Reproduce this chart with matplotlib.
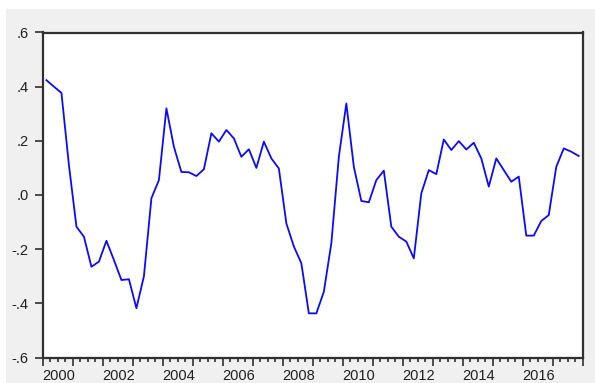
import numpy as np
import matplotlib.pyplot as plt
import matplotlib.transforms as mtransforms
from matplotlib.patches import Rectangle
from matplotlib.ticker import FixedLocator, FuncFormatter

plt.rcParams['font.family'] = ['Liberation Sans', 'DejaVu Sans']

# quarterly series, 2000Q1 - 2017Q4
quarters = [f'{y}Q{q}' for y in range(2000, 2018) for q in range(1, 5)]
values = [
    0.424, 0.400, 0.377, 0.110, -0.117, -0.154, -0.265, -0.246,
    -0.169, -0.240, -0.314, -0.311, -0.418, -0.300, -0.012, 0.055,
    0.320, 0.178, 0.085, 0.084, 0.070, 0.095, 0.228, 0.197,
    0.240, 0.209, 0.141, 0.169, 0.100, 0.197, 0.135, 0.098,
    -0.105, -0.190, -0.252, -0.437, -0.437, -0.357, -0.178, 0.141,
    0.338, 0.104, -0.022, -0.027, 0.055, 0.090, -0.117, -0.154,
    -0.172, -0.234, 0.006, 0.092, 0.077, 0.205, 0.166, 0.199,
    0.168, 0.193, 0.135, 0.031, 0.135, 0.092, 0.049, 0.068,
    -0.150, -0.150, -0.096, -0.074, 0.104, 0.172, 0.160, 0.144,
]
y_ticks = [-0.6, -0.4, -0.2, 0.0, 0.2, 0.4, 0.6]
year_labels = list(range(2000, 2018, 2))

# plot each quarter at its middle
t = np.array([int(q[:4]) + (int(q[-1]) - 0.5) / 4 for q in quarters])

fig = plt.figure(figsize=(5.95, 3.83), dpi=100, facecolor='white')
fig.patches.append(Rectangle((6 / 595, 0), 589 / 595, 374 / 383,
                             transform=fig.transFigure, facecolor='#f0f0f0',
                             edgecolor='none', zorder=-10))

ax = fig.add_axes([42.7 / 595, 25.5 / 383, 539.8 / 595, 325 / 383])
ax.set_facecolor('white')
ax.plot(t, values, color='#0a0aff', linewidth=1.3)

ax.set_xlim(2000, 2018)
ax.set_ylim(-0.6, 0.6)

ax.set_yticks(y_ticks)
ax.yaxis.set_major_formatter(FuncFormatter(
    lambda v, pos: ('-' if v < -1e-9 else '') + ('%.1f' % abs(v)).lstrip('0')))

ax.xaxis.set_major_locator(FixedLocator(list(range(2000, 2019))))
ax.xaxis.set_minor_locator(FixedLocator([y + q / 4 for y in range(2000, 2018) for q in (1, 2, 3)]))
ax.set_xticklabels([str(y) if y in year_labels else '' for y in range(2000, 2019)])

# year labels start at their tick, nudged slightly left
shift = mtransforms.ScaledTranslation(-2 / 100, 0, fig.dpi_scale_trans)
for lbl in ax.get_xticklabels():
    lbl.set_horizontalalignment('left')
    lbl.set_transform(lbl.get_transform() + shift)

ax.tick_params(axis='both', which='major', length=6, width=1.2, color='#303030',
               labelsize=10.5, labelcolor='#202020')
ax.tick_params(axis='x', which='minor', length=3, width=1.2, color='#303030')
ax.tick_params(axis='y', pad=4)
ax.tick_params(axis='x', pad=2)

for s in ax.spines.values():
    s.set_color('#303030')
    s.set_linewidth(1.6)

fig.savefig('out.png', dpi=100, facecolor=fig.get_facecolor())
